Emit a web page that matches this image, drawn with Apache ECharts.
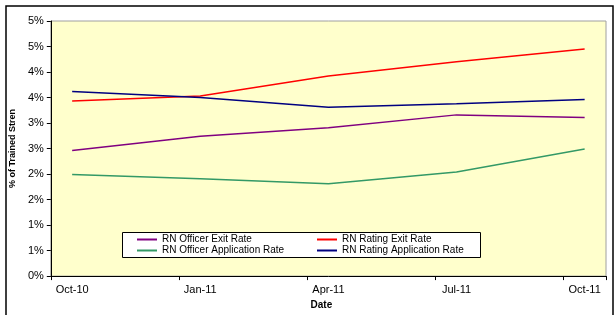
<!DOCTYPE html>
<html>
<head>
<meta charset="utf-8">
<script src="https://cdn.jsdelivr.net/npm/echarts@6/dist/echarts.min.js"></script>
<style>
  html, body { margin: 0; padding: 0; background: #fff; }
  #chart { width: 616px; height: 315px; }
</style>
</head>
<body>
<div id="chart"></div>
<script>
// monthly slots, only quarter months carry data
var months = ['Oct-10', 'Nov-10', 'Dec-10', 'Jan-11', 'Feb-11', 'Mar-11', 'Apr-11',
  'May-11', 'Jun-11', 'Jul-11', 'Aug-11', 'Sep-11', 'Oct-11'];

var officerExit = [2.46, null, null, 2.74, null, null, 2.91, null, null, 3.16, null, null, 3.11];
var ratingExit = [3.43, null, null, 3.53, null, null, 3.92, null, null, 4.20, null, null, 4.45];
var officerApp = [1.99, null, null, 1.91, null, null, 1.81, null, null, 2.04, null, null, 2.49];
var ratingApp = [3.62, null, null, 3.50, null, null, 3.31, null, null, 3.38, null, null, 3.46];

var seriesNames = ['RN Officer Exit Rate', 'RN Rating Exit Rate',
  'RN Officer Application Rate', 'RN Rating Application Rate'];
var seriesColors = ['#800080', '#ff0000', '#339966', '#000080'];

var font = 'Liberation Sans, Arial, sans-serif';

function lineSeries(i, data) {
  return {
    name: seriesNames[i],
    type: 'line',
    data: data,
    connectNulls: true,
    symbol: 'none',
    silent: true,
    lineStyle: { color: seriesColors[i], width: 1.5 },
    itemStyle: { color: seriesColors[i] }
  };
}

function legendBlock(names, left) {
  return {
    data: names,
    orient: 'vertical',
    left: left, top: 234,
    padding: 0,
    itemGap: 0,
    icon: 'rect',
    itemWidth: 20, itemHeight: 2,
    z: 20,
    selectedMode: false,
    textStyle: { fontSize: 10, color: '#000', fontFamily: font, lineHeight: 11 }
  };
}

var chart = echarts.init(document.getElementById('chart'));

var option = {
  backgroundColor: '#fff',
  animation: false,
  textStyle: { fontFamily: font },
  grid: {
    left: 45, right: 10, top: 21, bottom: 30,
    show: true,
    backgroundColor: '#ffffcc',
    borderColor: '#a0a0a0',
    borderWidth: 1
  },
  graphic: [
    {
      type: 'rect',
      z: 1,
      shape: { x: 6, y: 6, width: 607, height: 320 },
      style: { fill: 'none', stroke: '#000', lineWidth: 1.5 }
    },
    {
      type: 'rect',
      z: 10,
      shape: { x: 122.5, y: 232.5, width: 358, height: 25 },
      style: { fill: '#fff', stroke: '#000', lineWidth: 1 }
    }
  ],
  legend: [
    legendBlock([seriesNames[0], seriesNames[2]], 137),
    legendBlock([seriesNames[1], seriesNames[3]], 317)
  ],
  xAxis: {
    type: 'category',
    data: months,
    boundaryGap: true,
    name: 'Date',
    nameLocation: 'middle',
    nameGap: 20,
    nameTextStyle: { fontSize: 10, fontWeight: 'bold', color: '#000', padding: [0, 14, 0, 0] },
    axisLine: { lineStyle: { color: '#000', width: 1 } },
    axisTick: { show: true, interval: 2, length: 4, lineStyle: { color: '#000' } },
    axisLabel: { interval: 2, fontSize: 11, color: '#000', margin: 8 },
    splitLine: { show: false }
  },
  yAxis: {
    type: 'value',
    min: 0, max: 5, interval: 0.5,
    name: '% of Trained Stren',
    nameLocation: 'middle',
    nameGap: 26,
    nameTextStyle: { fontSize: 9, fontWeight: 'bold', color: '#000' },
    axisLine: { show: true, lineStyle: { color: '#000', width: 1 } },
    axisTick: { show: true, length: 4, lineStyle: { color: '#000' } },
    axisLabel: {
      fontSize: 11, color: '#000', margin: 7,
      formatter: function (v) { return Math.round(v) + '%'; }
    },
    splitLine: { show: false }
  },
  series: [
    lineSeries(0, officerExit),
    lineSeries(1, ratingExit),
    lineSeries(2, officerApp),
    lineSeries(3, ratingApp)
  ]
};

chart.setOption(option);
</script>
</body>
</html>
